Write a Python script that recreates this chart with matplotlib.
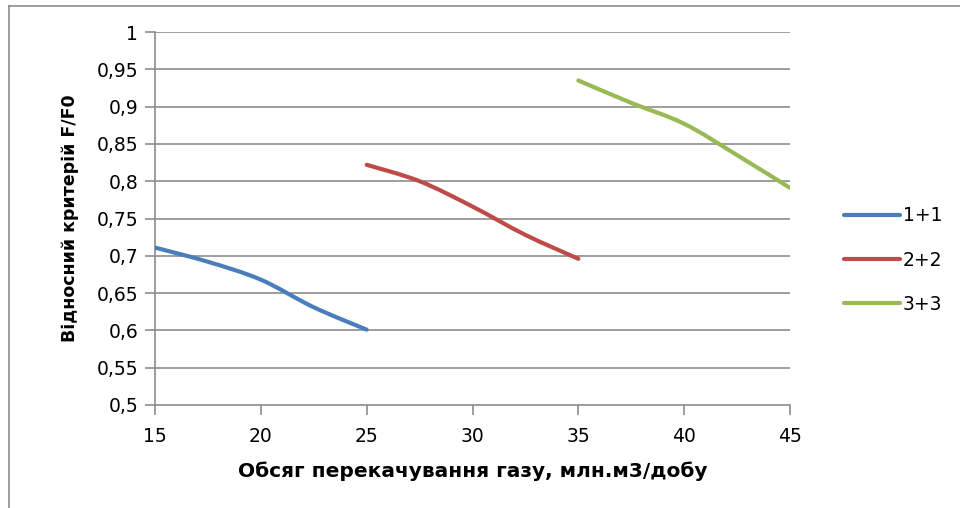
import numpy as np
import matplotlib
matplotlib.use("Agg")
import matplotlib.pyplot as plt
from matplotlib.path import Path
from matplotlib.patches import PathPatch
from matplotlib.lines import Line2D

plt.rcParams['font.family'] = ['DejaVu Sans']

# Gas throughput (mln m3/day) and relative criterion F/F0 for each scheme
x_11 = [15, 17.5, 20, 22.5, 25]
y_11 = [0.711, 0.692, 0.668, 0.631, 0.601]
x_22 = [25, 27.5, 30, 32.5, 35]
y_22 = [0.822, 0.800, 0.766, 0.728, 0.696]
x_33 = [35, 37.5, 40, 42.5, 45]
y_33 = [0.935, 0.905, 0.877, 0.835, 0.791]

series_names = ['1+1', '2+2', '3+3']
series_colors = ['#4A7EBB', '#BE4B48', '#98B954']

x_ticks = [15, 20, 25, 30, 35, 40, 45]
y_ticks = [0.5, 0.55, 0.6, 0.65, 0.7, 0.75, 0.8, 0.85, 0.9, 0.95, 1.0]
y_tick_labels = ['0,5', '0,55', '0,6', '0,65', '0,7', '0,75', '0,8', '0,85', '0,9', '0,95', '1']

x_label = 'Обсяг перекачування газу, млн.м3/добу'
y_label = 'Відносний критерій F/F0'


def smooth_path(xs, ys, tension=1 / 6):
    """Cubic Bezier path through the points (Catmull-Rom style smoothing)."""
    xs = np.asarray(xs, float)
    ys = np.asarray(ys, float)
    n = len(xs)
    verts = [(xs[0], ys[0])]
    codes = [Path.MOVETO]
    for i in range(n - 1):
        p0 = np.array([xs[max(i - 1, 0)], ys[max(i - 1, 0)]])
        p1 = np.array([xs[i], ys[i]])
        p2 = np.array([xs[i + 1], ys[i + 1]])
        p3 = np.array([xs[min(i + 2, n - 1)], ys[min(i + 2, n - 1)]])
        c1 = p1 + (p2 - p0) * tension
        c2 = p2 - (p3 - p1) * tension
        verts += [tuple(c1), tuple(c2), tuple(p2)]
        codes += [Path.CURVE4] * 3
    return Path(verts, codes)


fig = plt.figure(figsize=(9.6, 5.08), dpi=100)
ax = fig.add_axes([155 / 960, 103 / 508, 635 / 960, 373 / 508])

grid_color = '#8C8C8C'
for yv in y_ticks[1:]:
    ax.axhline(yv, color=grid_color, lw=1.2, zorder=1)

for xs, ys, c in zip([x_11, x_22, x_33], [y_11, y_22, y_33], series_colors):
    patch = PathPatch(smooth_path(xs, ys), facecolor='none', edgecolor=c,
                      lw=3.0, capstyle='round', joinstyle='round', zorder=3)
    ax.add_patch(patch)

ax.set_xlim(15, 45)
ax.set_ylim(0.5, 1.0)
ax.set_xticks(x_ticks)
ax.set_xticklabels([str(v) for v in x_ticks])
ax.set_yticks(y_ticks)
ax.set_yticklabels(y_tick_labels)

for side in ['top', 'right']:
    ax.spines[side].set_visible(False)
for side in ['left', 'bottom']:
    ax.spines[side].set_color(grid_color)
    ax.spines[side].set_linewidth(1.2)
ax.tick_params(axis='both', direction='out', length=7, width=1.2,
               color=grid_color, labelsize=13.5, labelcolor='black')
ax.tick_params(axis='x', pad=9)
ax.tick_params(axis='y', pad=5)

ax.set_xlabel(x_label, fontsize=14.5, fontweight='bold', labelpad=11)
ax.set_ylabel(y_label, fontsize=12.5, fontweight='bold', labelpad=13)

handles = [Line2D([0], [0], color=c, lw=3.0, solid_capstyle='round') for c in series_colors]
fig.legend(handles, series_names, loc='center left', bbox_to_anchor=(836 / 960, 1 - 260 / 508),
           frameon=False, fontsize=13.5, handlelength=3.0, labelspacing=1.35,
           handletextpad=0.15, borderaxespad=0)

# outer chart frame
fig.add_artist(Line2D([9 / 960, 9 / 960], [0, 1 - 6 / 508], transform=fig.transFigure,
                      color='#8C8C8C', lw=1.2))
fig.add_artist(Line2D([9 / 960, 1], [1 - 6 / 508, 1 - 6 / 508], transform=fig.transFigure,
                      color='#8C8C8C', lw=1.2))

fig.savefig('out.png', dpi=100)
